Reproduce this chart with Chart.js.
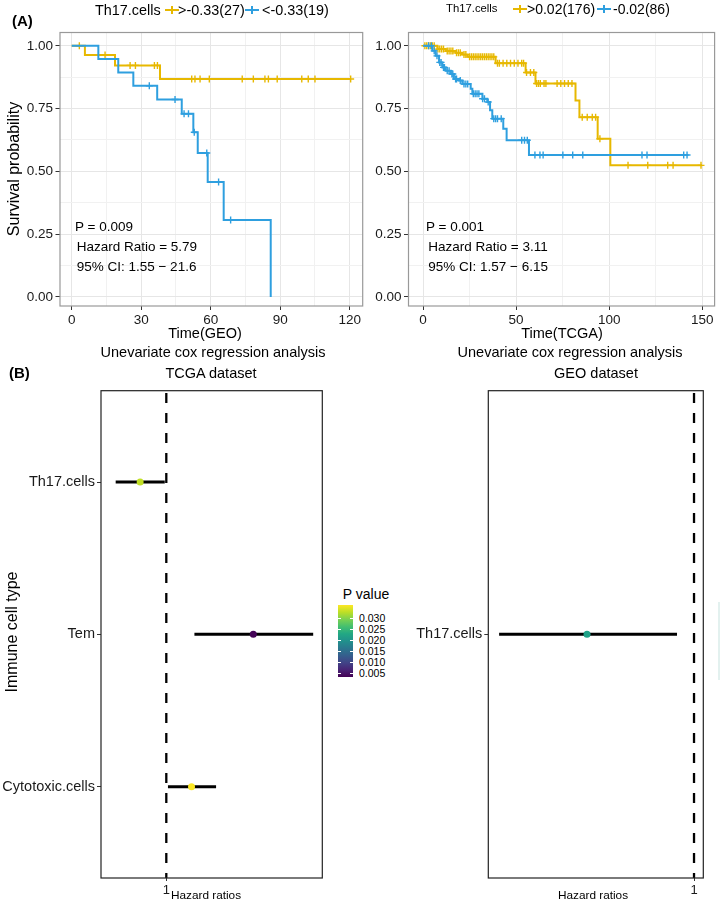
<!DOCTYPE html>
<html><head><meta charset="utf-8">
<script src="https://cdn.jsdelivr.net/npm/chart.js@4.4.0/dist/chart.umd.min.js"></script>
<style>
html,body{margin:0;padding:0;background:#fff;}
body{width:720px;height:902px;position:relative;overflow:hidden;font-family:"Liberation Sans",Arial,sans-serif;color:#000;}
canvas{position:absolute;}
.t{position:absolute;white-space:nowrap;transform:translate(-50%,-50%);line-height:1;}
.l{position:absolute;white-space:nowrap;transform:translate(0,-50%);line-height:1;}
.r{position:absolute;white-space:nowrap;transform:translate(-50%,-50%) rotate(-90deg);line-height:1;}
.sym{position:absolute;height:2px;width:14px;margin-top:-1px;}
.sym::after{content:"";position:absolute;left:6px;top:-3px;width:2px;height:8px;background:inherit;}
.cbtick{position:absolute;height:1px;width:3px;background:#fff;}
</style></head><body>

<canvas id="km1" width="370" height="330" style="left:0;top:0"></canvas>
<canvas id="km2" width="350" height="330" style="left:370px;top:0"></canvas>
<canvas id="fp1" width="330" height="522" style="left:0;top:380px"></canvas>
<canvas id="fp2" width="320" height="522" style="left:400px;top:380px"></canvas>

<div id="texts"></div>

<script>
// ---------------- DATA ----------------
// Panel A, GEO (Th17.cells groups)
const geoLabels = ['>-0.33(27)', '<-0.33(19)'];
const geoTimeHigh = [0, 5.7, 18.7, 38.1, 120.4];
const geoSurvHigh = [1, 0.963, 0.922, 0.868, 0.868];
const geoCensorHigh = [3.3, 14.4, 25.2, 27.5, 35.7, 37.0, 51.8, 53.2, 55.4, 59.4, 73.6, 78.4, 83.4, 84.9, 88.7, 99.3, 102.1, 105.0, 120.4];
const geoTimeLow = [0, 11.5, 20.1, 26.6, 36.9, 47.5, 52.5, 54.4, 58.7, 65.6, 85.9];
const geoSurvLow = [1, 0.947, 0.894, 0.841, 0.786, 0.729, 0.656, 0.573, 0.458, 0.306, 0];
const geoCensorLow = [33.5, 44.6, 48.5, 50.4, 52.9, 58.3, 63.4, 68.6];
const geoXTicks = [0, 30, 60, 90, 120];

// Panel A, TCGA
const tcgaLabels = ['>0.02(176)', '-0.02(86)'];
const tcgaTimeHigh = [0, 7.7, 12.2, 17.5, 21.0, 24.0, 39.0, 55.1, 60.4, 81.9, 84.0, 93.8, 100.6, 149.8];
const tcgaSurvHigh = [1, 0.987, 0.979, 0.972, 0.965, 0.956, 0.931, 0.894, 0.850, 0.782, 0.716, 0.630, 0.524, 0.524];
const tcgaCensorHigh = [1, 2, 3, 4, 5, 6, 8, 9, 10, 11, 13, 14, 15, 16, 18, 19, 20, 22, 23, 25, 26, 27, 28, 29, 30, 31, 32, 33, 34, 35, 36, 37, 38,
  40, 41, 43, 45, 47, 49, 51, 53, 54, 55.6, 57.7, 59.5, 61, 62, 63, 65, 66, 72, 74, 76, 78, 80,
  85.5, 88.2, 90.9, 92.7, 95, 110.1, 120.7, 131.4, 134.3, 149.3];
const tcgaTimeLow = [0, 5.0, 6.8, 8.6, 10.4, 12.2, 14.9, 16.6, 19.3, 21.1, 25.6, 26.5, 31.9, 34.5, 36.0, 37.2, 43.1, 44.9, 56.9, 142.6];
const tcgaSurvLow = [1, 0.98, 0.96, 0.934, 0.914, 0.901, 0.888, 0.868, 0.862, 0.848, 0.829, 0.809, 0.789, 0.776, 0.743, 0.71, 0.67, 0.624, 0.565, 0.565];
const tcgaCensorLow = [3, 4.5, 6, 7.5, 9, 9.7, 11, 11.5, 13, 14, 15.5, 16, 17.5, 18, 20, 22, 23, 24, 27, 28, 29, 30, 32, 33, 35, 38, 39, 40, 42,
  53, 54.5, 56, 60.1, 62.8, 64.5, 75.1, 80.4, 85.8, 117.6, 120.3, 140, 141.8];
const tcgaXTicks = [0, 50, 100, 150];

const survTicks = [0, 0.25, 0.5, 0.75, 1];

// Panel B, forest plots
const tcgaCells = ['Th17.cells', 'Tem', 'Cytotoxic.cells'];
const tcgaHR = [0.815, 1.975, 1.218];
const tcgaLower = [0.673, 1.246, 1.013];
const tcgaUpper = [0.988, 3.155, 1.476];
const tcgaP = [0.033, 0.0035, 0.036];
const pBarTicks = [0.005, 0.010, 0.015, 0.020, 0.025, 0.030];
const pBarRange = [0.0032, 0.0361];

const geoCells = ['Th17.cells'];
const geoHR = [0.172];
const geoLower = [0.0405];
const geoUpper = [0.756];

// ---------------- STYLE ----------------
const YEL = '#E7B800', BLU = '#2E9FDF';
const FONT = '"Liberation Sans", Arial, sans-serif';
Chart.defaults.font.family = FONT;
Chart.defaults.color = '#1a1a1a';

const viridis = ['#440154','#482475','#414487','#355f8d','#2a788e','#21918c','#22a884','#44bf70','#7ad151','#bddf26','#fde725'];
function hex2rgb(h){return [1,3,5].map(i=>parseInt(h.substr(i,2),16));}
function viridisAt(t){
  t = Math.max(0, Math.min(1, t)); const n = viridis.length - 1;
  const i = Math.min(n - 1, Math.floor(t * n)); const f = t * n - i;
  const a = hex2rgb(viridis[i]), b = hex2rgb(viridis[i + 1]);
  return 'rgb(' + a.map((v, k) => Math.round(v + (b[k] - v) * f)).join(',') + ')';
}
function stepLevel(times, surv, t){ let s = surv[0]; for (let i = 0; i < times.length; i++) if (times[i] <= t) s = surv[i]; return s; }

const framePlugin = {
  id: 'frame',
  afterDatasetsDraw(chart, args, o) {
    const {left, top, right, bottom} = chart.chartArea; const c = chart.ctx;
    c.save(); c.strokeStyle = o.color; c.lineWidth = o.width;
    c.strokeRect(left, top, right - left, bottom - top); c.restore();
  }
};

function withMinor(majors, stepMinor) {
  const out = [];
  for (let i = 0; i < majors.length; i++) {
    out.push({value: majors[i], minor: false});
    if (i < majors.length - 1) out.push({value: majors[i] + stepMinor, minor: true});
  }
  return out;
}

function kmChart(id, cfg) {
  const datasets = [];
  cfg.groups.forEach(g => {
    datasets.push({data: g.time.map((t, i) => ({x: t, y: g.surv[i]})), showLine: true, stepped: 'before',
      borderColor: g.color, borderWidth: 2, pointRadius: 0, fill: false});
    datasets.push({data: g.censor.map(t => ({x: t, y: stepLevel(g.time, g.surv, t)})), showLine: false,
      pointStyle: 'cross', pointRadius: 3.5, pointBorderWidth: 1.4, borderColor: g.color, backgroundColor: g.color});
  });
  const xT = withMinor(cfg.xTicks, (cfg.xTicks[1] - cfg.xTicks[0]) / 2);
  const yT = withMinor(survTicks, 0.125);
  const gridColor = ctx => ctx.tick && ctx.tick.minor ? '#f1f1f1' : '#e6e6e6';
  const tickColor = ctx => ctx.tick && ctx.tick.minor ? 'rgba(0,0,0,0)' : '#333';
  return new Chart(document.getElementById(id), {
    type: 'line',
    data: {datasets},
    plugins: [framePlugin],
    options: {
      responsive: false, animation: false, events: [],
      layout: {padding: {top: 32.5, right: cfg.padRight, left: 0, bottom: 0}},
      plugins: {legend: {display: false}, tooltip: {enabled: false}, frame: {color: '#999', width: 1.2}},
      scales: {
        x: {type: 'linear', min: cfg.xMin, max: cfg.xMax,
          afterFit: s => { s.height = 24; },
          afterBuildTicks: s => { s.ticks = xT.map(t => ({...t})); },
          ticks: {autoSkip: false, maxRotation: 0, padding: 2, font: {size: 13.5}, color: '#1a1a1a',
            callback: (v, i, ts) => ts[i].minor ? '' : String(v)},
          grid: {color: gridColor, lineWidth: 1, tickLength: 4, tickColor: tickColor},
          border: {display: false}},
        y: {type: 'linear', min: -0.036, max: 1.053,
          afterFit: s => { s.width = cfg.yW; },
          afterBuildTicks: s => { s.ticks = yT.map(t => ({...t})); },
          ticks: {autoSkip: false, padding: 2.5, font: {size: 13.5}, color: '#1a1a1a',
            callback: (v, i, ts) => ts[i].minor ? '' : v.toFixed(2)},
          grid: {color: gridColor, lineWidth: 1, tickLength: 4.5, tickColor: tickColor},
          border: {display: false}}
      }
    }
  });
}

kmChart('km1', {xMin: -5.05, xMax: 125.6, xTicks: geoXTicks, yW: 60, padRight: 7.3,
  groups: [
    {time: geoTimeLow, surv: geoSurvLow, censor: geoCensorLow, color: BLU},
    {time: geoTimeHigh, surv: geoSurvHigh, censor: geoCensorHigh, color: YEL}
  ]});
kmChart('km2', {xMin: -7.8, xMax: 156.6, xTicks: tcgaXTicks, yW: 38.5, padRight: 5,
  groups: [
    {time: tcgaTimeLow, surv: tcgaSurvLow, censor: tcgaCensorLow, color: BLU},
    {time: tcgaTimeHigh, surv: tcgaSurvHigh, censor: tcgaCensorHigh, color: YEL}
  ]});

function forestChart(id, cfg) {
  const n = cfg.cats.length;
  const yMin = 0.4, yMax = n + 0.6;
  const datasets = [];
  cfg.cats.forEach((c, i) => {
    datasets.push({data: [{x: cfg.lo[i], y: i + 1}, {x: cfg.hi[i], y: i + 1}], showLine: true,
      borderColor: '#000', borderWidth: 3, pointRadius: 0, borderCapStyle: 'butt'});
  });
  datasets.unshift({data: cfg.hr.map((h, i) => ({x: h, y: i + 1})), showLine: false,
    pointStyle: 'circle', pointRadius: 3.5, pointBorderWidth: 0, pointBackgroundColor: cfg.colors, borderColor: cfg.colors});
  datasets.push({data: [{x: 1, y: yMin}, {x: 1, y: yMax}], showLine: true, borderColor: '#000', borderWidth: 2.3,
    borderDash: [10, 10], borderDashOffset: 17.7, pointRadius: 0, borderCapStyle: 'butt'});
  return new Chart(document.getElementById(id), {
    type: 'line',
    data: {datasets},
    plugins: [framePlugin],
    options: {
      responsive: false, animation: false, events: [],
      layout: {padding: {top: 7, right: cfg.padRight, left: 0, bottom: 0}},
      plugins: {legend: {display: false}, tooltip: {enabled: false}, frame: {color: '#222', width: 1.2}},
      scales: {
        x: {type: 'logarithmic', min: cfg.xMin, max: cfg.xMax,
          afterFit: s => { s.height = 24; },
          afterBuildTicks: s => { s.ticks = [{value: 1}]; },
          ticks: {autoSkip: false, maxRotation: 0, padding: 2, font: {size: 13}, color: '#1a1a1a', callback: () => '1'},
          grid: {drawOnChartArea: false, tickLength: 3, tickColor: '#333'},
          border: {display: false}},
        y: {type: 'linear', reverse: true, min: yMin, max: yMax,
          afterFit: s => { s.width = cfg.yW; },
          afterBuildTicks: s => { s.ticks = cfg.cats.map((c, i) => ({value: i + 1})); },
          ticks: {autoSkip: false, padding: 2, font: {size: 14.5}, color: '#1a1a1a', callback: v => cfg.cats[v - 1]},
          grid: {drawOnChartArea: false, tickLength: 4, tickColor: '#333'},
          border: {display: false}}
      }
    }
  });
}

forestChart('fp1', {cats: tcgaCells, hr: tcgaHR, lo: tcgaLower, hi: tcgaUpper,
  colors: tcgaP.map(p => viridisAt((p - pBarRange[0]) / (pBarRange[1] - pBarRange[0]))),
  xMin: 0.620, xMax: 3.388, yW: 101, padRight: 7.7});
forestChart('fp2', {cats: geoCells, hr: geoHR, lo: geoLower, hi: geoUpper,
  colors: ['#1fa187'],
  xMin: 0.0339, xMax: 1.165, yW: 88.3, padRight: 16.7});

// ---------------- TEXT ----------------
const T = [];
function txt(cls, x, y, s, size, extra) { T.push(`<div class="${cls}" style="left:${x}px;top:${y}px;font-size:${size}px;${extra || ''}">${s}</div>`); }
function sym(x, y, color) { T.push(`<div class="sym" style="left:${x}px;top:${y}px;background:${color}"></div>`); }

txt('l', 12, 20, '(A)', 15, 'font-weight:bold');
txt('l', 95, 10, 'Th17.cells', 14.4);
sym(165, 10, YEL); txt('l', 178, 10, geoLabels[0], 14.4);
sym(245, 10, BLU); txt('l', 262, 10, geoLabels[1], 14.4);

txt('l', 446, 9, 'Th17.cells', 11.3);
sym(513, 9, YEL); txt('l', 527, 9, tcgaLabels[0], 14);
sym(597, 9, BLU); txt('l', 613, 9, tcgaLabels[1], 14);

txt('r', 14, 169, 'Survival probability', 16);
txt('t', 205, 333, 'Time(GEO)', 14.5);
txt('t', 562, 333, 'Time(TCGA)', 14.5);
txt('t', 213, 352, 'Unevariate cox regression analysis', 14.5);
txt('t', 570, 352, 'Unevariate cox regression analysis', 14.5);

txt('l', 75, 227, 'P = 0.009', 13.5);
txt('l', 76.7, 247, 'Hazard Ratio = 5.79', 13.5);
txt('l', 76.7, 267.3, '95% CI: 1.55 \u2212 21.6', 13.5);
txt('l', 426, 227, 'P = 0.001', 13.5);
txt('l', 428.3, 247, 'Hazard Ratio = 3.11', 13.5);
txt('l', 428.3, 267.3, '95% CI: 1.57 \u2212 6.15', 13.5);

txt('l', 9, 372, '(B)', 15, 'font-weight:bold');
txt('t', 211, 373, 'TCGA dataset', 14.5);
txt('t', 596, 373, 'GEO dataset', 14.5);
txt('r', 12, 632, 'Immune cell type', 16);
txt('t', 206, 896, 'Hazard ratios', 11.8);
txt('t', 593, 896, 'Hazard ratios', 11.8);

// colour bar
txt('t', 366, 594, 'P value', 14);
const cbTop = 605, cbH = 72, cbL = 338, cbW = 14.7;
const stops = viridis.map((c, i) => `${c} ${(i / (viridis.length - 1) * 100).toFixed(1)}%`).join(',');
T.push(`<div style="position:absolute;left:${cbL}px;top:${cbTop}px;width:${cbW}px;height:${cbH}px;background:linear-gradient(to top,${stops})"></div>`);
pBarTicks.forEach(v => {
  const y = cbTop + cbH - (v - pBarRange[0]) / (pBarRange[1] - pBarRange[0]) * cbH;
  T.push(`<div class="cbtick" style="left:${cbL}px;top:${y}px"></div>`);
  T.push(`<div class="cbtick" style="left:${cbL + cbW - 3}px;top:${y}px"></div>`);
  txt('l', 359, y, v.toFixed(3), 10.5);
});
// edge of the GEO colour bar that is cut off at the right border
T.push(`<div style="position:absolute;left:718px;top:602px;width:2px;height:78px;background:#e3f1ef"></div>`);

document.getElementById('texts').innerHTML = T.join('');
</script>
</body></html>
